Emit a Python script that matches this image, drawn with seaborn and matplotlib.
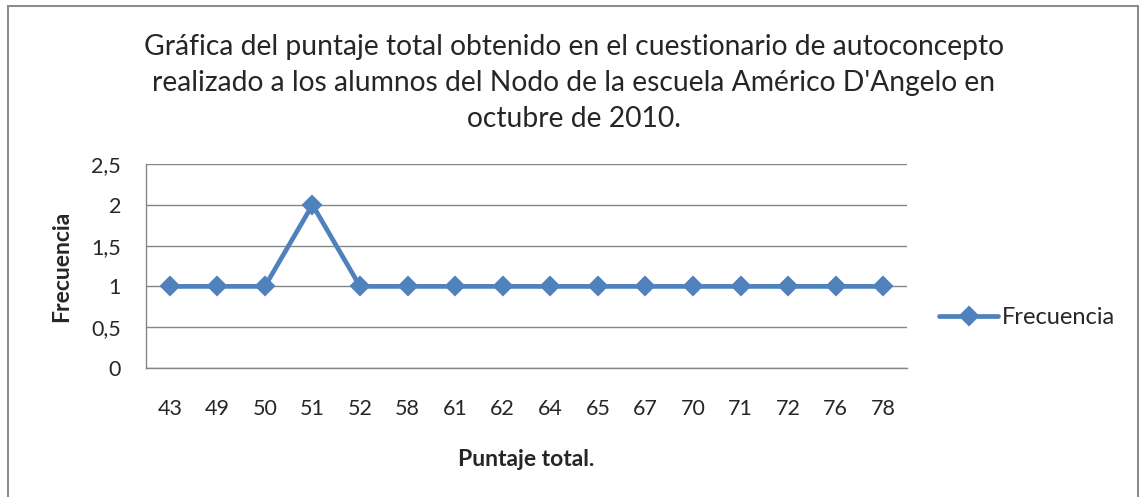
import numpy as np
import pandas as pd
import seaborn as sns
import matplotlib.pyplot as plt
from matplotlib.patches import Rectangle

# datos
puntaje = ["43", "49", "50", "51", "52", "58", "61", "62", "64", "65", "67", "70", "71", "72", "76", "78"]
frecuencia = [1, 1, 1, 2, 1, 1, 1, 1, 1, 1, 1, 1, 1, 1, 1, 1]
yticks = [0, 0.5, 1, 1.5, 2, 2.5]
yticklabels = ["0", "0,5", "1", "1,5", "2", "2,5"]

titulo = ("Gráfica del puntaje total obtenido en el cuestionario de autoconcepto\n"
          "realizado a los alumnos del Nodo de la escuela Américo D'Angelo en\n"
          "octubre de 2010.")

sns.set_style("white")
plt.rcParams["font.family"] = ["Lato", "DejaVu Sans"]

azul = "#4F81BD"
gris = "#868686"

df = pd.DataFrame({"Puntaje": puntaje, "Frecuencia": frecuencia})

W, H = 1141, 497
fig = plt.figure(figsize=(W / 100, H / 100), dpi=100)
ax = fig.add_axes([146 / W, 1 - 368 / H, (907 - 146) / W, (368 - 164) / H])

sns.pointplot(data=df, x="Puntaje", y="Frecuencia", order=puntaje, errorbar=None,
              color=azul, markers="D", linewidth=3.4, markersize=8.5,
              label="Frecuencia", ax=ax)

ax.set_xlim(-0.5, len(puntaje) - 0.5)
ax.set_ylim(0, 2.5)
ax.set_yticks(yticks)
ax.set_yticklabels(yticklabels)
ax.yaxis.grid(True, color=gris, linewidth=1)
ax.xaxis.grid(False)
ax.set_axisbelow(True)
for s in ["top", "right"]:
    ax.spines[s].set_visible(False)
for s in ["left", "bottom"]:
    ax.spines[s].set_color(gris)
    ax.spines[s].set_linewidth(1)
ax.tick_params(axis="y", length=5, color=gris, width=1, labelsize=15.5, pad=13)
ax.tick_params(axis="x", length=0, labelsize=15.5, pad=22)

ax.set_xlabel("Puntaje total.", fontsize=16.5, fontweight="bold", labelpad=22)
ax.set_ylabel("Frecuencia", fontsize=16.5, fontweight="bold", labelpad=14)

fig.text(574 / W, 1 - 83 / H, titulo, ha="center", va="center", fontsize=20.3,
         linespacing=1.48)

leg = ax.legend(loc="center left", bbox_to_anchor=(918 / W, 1 - 318 / H),
                bbox_transform=fig.transFigure, frameon=False, fontsize=17,
                handlelength=2.5, handletextpad=0.15)

# borde del area del grafico
fig.patches.append(Rectangle((8 / W, -0.05), (1138 - 8) / W, 1.05 - 6 / H,
                             transform=fig.transFigure, fill=False,
                             edgecolor="#8c8c8c", linewidth=1.5))

fig.savefig("out.png", dpi=100)
